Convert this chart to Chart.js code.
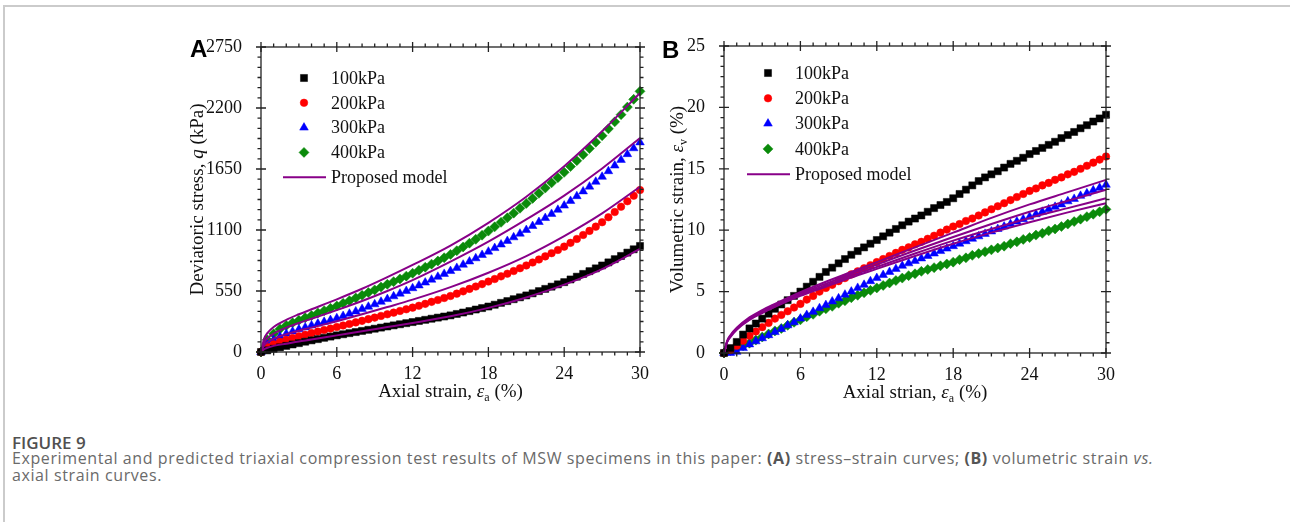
<!DOCTYPE html>
<html>
<head>
<meta charset="utf-8">
<script src="https://cdn.jsdelivr.net/npm/chart.js@4.4.1/dist/chart.umd.min.js"></script>
<style>
  body { margin: 0; background: #fff; width: 1290px; height: 522px; overflow: hidden; position: relative; }
  .frame { position: absolute; left: 3px; top: 5px; width: 1300px; height: 530px; border-top: 2px solid #cbcbcb; border-left: 2px solid #cbcbcb; }
  .panel { position: absolute; top: 30px; }
  #panelA { left: 170px; }
  #panelB { left: 640px; }
  .fig-no { position: absolute; left: 12px; top: 431px; font: 600 17px "Open Sans", sans-serif; color: #505050; }
  .fig-text { position: absolute; left: 12px; top: 450px; font: 16px/16.5px "Open Sans", sans-serif; letter-spacing: 0.6px; color: #6a6a6a; white-space: nowrap; }
  .fig-text b { color: #555; }
</style>
</head>
<body>
<div class="frame"></div>
<canvas id="panelA" class="panel" width="500" height="380"></canvas>
<canvas id="panelB" class="panel" width="500" height="380"></canvas>
<div class="fig-no">FIGURE 9</div>
<div class="fig-text">Experimental and predicted triaxial compression test results of MSW specimens in this paper: <b>(A)</b> stress&#8211;strain curves; <b>(B)</b> volumetric strain <i>vs.</i><br>axial strain curves.</div>
<script>
// axial strain of the measured points (%)
const strain = [0,0.5,1,1.5,2,2.5,3,3.5,4,4.5,5,5.5,6,6.5,7,7.5,8,8.5,9,9.5,10,10.5,11,11.5,12,12.5,13,13.5,14,14.5,15,15.5,16,16.5,17,17.5,18,18.5,19,19.5,20,20.5,21,21.5,22,22.5,23,23.5,24,24.5,25,25.5,26,26.5,27,27.5,28,28.5,29,29.5,30];

// deviatoric stress q (kPa), measured
const stressA100 = [0,15,29,42,55,68,80,93,105,116,128,139,150,160,170,180,190,200,210,220,230,240,250,260,270,280,290,300,310,320,330,343,356,369,383,396,410,426,443,459,476,493,510,529,549,569,589,610,630,654,679,704,729,754,780,808,837,866,896,926,956];
const stressA200 = [0,45,70,92,110,126,141,156,170,184,198,211,225,239,253,267,281,296,310,325,340,355,370,385,400,417,434,452,469,487,505,526,547,569,590,612,635,658,682,706,730,755,780,807,834,862,891,920,950,984,1019,1055,1092,1130,1170,1215,1262,1310,1359,1409,1460];
const stressA300 = [0,70,110,140,165,185,204,222,240,256,272,288,305,325,345,366,387,408,430,453,477,502,526,550,575,600,626,652,678,704,730,758,787,816,845,875,905,937,969,1001,1034,1067,1100,1136,1172,1208,1245,1282,1320,1362,1405,1448,1491,1535,1580,1630,1681,1732,1784,1837,1890];
const stressA400 = [0,110,165,208,240,264,286,308,330,352,373,394,415,439,463,487,511,536,560,585,610,634,659,684,710,737,764,792,820,850,880,913,947,981,1016,1053,1090,1129,1169,1210,1252,1296,1340,1385,1431,1478,1525,1572,1620,1672,1725,1779,1834,1891,1950,2012,2075,2140,2208,2278,2350];

// volumetric strain (%), measured
const volB100 = [0,0.4,0.9,1.5,2.0,2.4,2.8,3.2,3.6,3.95,4.3,4.65,5.0,5.4,5.8,6.2,6.6,6.95,7.3,7.65,8.0,8.3,8.6,8.9,9.2,9.5,9.8,10.1,10.4,10.7,10.95,11.2,11.5,11.8,12.05,12.3,12.6,12.95,13.3,13.65,14.0,14.3,14.55,14.8,15.1,15.4,15.65,15.9,16.2,16.45,16.7,16.95,17.2,17.5,17.75,18.0,18.3,18.55,18.85,19.1,19.4];
const volB200 = [0,0.25,0.6,1.0,1.4,1.75,2.1,2.45,2.8,3.1,3.4,3.7,4.0,4.35,4.65,5.0,5.3,5.55,5.85,6.1,6.4,6.65,6.9,7.15,7.4,7.65,7.9,8.15,8.4,8.6,8.85,9.05,9.3,9.55,9.8,10.05,10.3,10.5,10.75,10.95,11.2,11.45,11.7,11.95,12.2,12.45,12.7,12.95,13.2,13.4,13.65,13.85,14.1,14.3,14.55,14.75,15.0,15.25,15.5,15.75,16.0];
const volB300 = [0,0.0,0.1,0.4,0.7,0.95,1.2,1.45,1.7,1.95,2.25,2.5,2.8,3.1,3.35,3.65,3.9,4.2,4.45,4.75,5.0,5.3,5.55,5.85,6.1,6.35,6.6,6.85,7.1,7.3,7.5,7.7,7.9,8.1,8.3,8.5,8.7,8.9,9.1,9.3,9.5,9.7,9.9,10.1,10.3,10.5,10.7,10.9,11.1,11.3,11.5,11.7,11.9,12.1,12.35,12.55,12.8,13.0,13.25,13.45,13.7];
const volB400 = [0,0.2,0.4,0.6,0.8,1.05,1.3,1.55,1.8,2.0,2.25,2.5,2.7,2.95,3.15,3.4,3.6,3.8,4.05,4.25,4.5,4.7,4.9,5.1,5.3,5.5,5.7,5.9,6.1,6.3,6.45,6.65,6.8,6.95,7.1,7.25,7.4,7.6,7.75,7.95,8.1,8.25,8.4,8.55,8.7,8.9,9.05,9.25,9.4,9.6,9.75,9.95,10.1,10.3,10.5,10.7,10.9,11.1,11.3,11.5,11.7];

// proposed model curves
const modelStrain = [0,0.25,0.5,1,2,3,4,6,8,10,12,15,18,21,24,27,30];
const modelA100 = [0,25,38,55,75,95,112,150,188,225,262,322,398,492,607,748,930];
const modelA200 = [0,60,88,120,160,192,220,278,340,405,472,585,715,865,1045,1250,1490];
const modelA300 = [0,85,122,165,220,262,300,378,460,550,648,815,995,1195,1410,1655,1930];
const modelA400 = [0,120,170,225,290,340,385,475,570,675,785,960,1165,1400,1675,1990,2335];
const modelB100 = [0,1.0,1.45,2.05,2.9,3.5,4.0,4.95,5.8,6.6,7.4,8.6,9.8,11.0,12.1,13.1,14.1];
const modelB200 = [0,0.95,1.4,2.0,2.8,3.4,3.9,4.85,5.65,6.45,7.2,8.35,9.45,10.5,11.5,12.4,13.3];
const modelB300 = [0,0.9,1.35,1.95,2.75,3.3,3.8,4.75,5.5,6.3,7.0,8.1,9.15,10.1,11.0,11.8,12.6];
const modelB400 = [0,0.9,1.3,1.9,2.7,3.25,3.75,4.65,5.4,6.15,6.85,7.9,8.9,9.8,10.65,11.45,12.2];

// tick labels
const strainTicks = [0, 6, 12, 18, 24, 30];
const stressTicks = [0, 550, 1100, 1650, 2200, 2750];
const volTicks = [0, 5, 10, 15, 20, 25];

const pressures = ["100kPa", "200kPa", "300kPa", "400kPa"];
const markerStyles = [
    { style: "rect", color: "#000000", radius: 5 },
    { style: "circle", color: "#ff0000", radius: 3.8 },
    { style: "triangle", color: "#0000ff", radius: 5 },
    { style: "rectRot", color: "#0a8a0a", radius: 5 },
];
const modelColor = "#880088";
const serif = '"Liberation Serif", "Times New Roman", serif';

const pairs = (xs, ys) => xs.map((x, i) => ({ x: x, y: ys[i] }));

function markerSet(label, ys, m) {
    return {
        label: label,
        data: pairs(strain, ys),
        showLine: false,
        pointStyle: m.style,
        pointRadius: m.radius,
        backgroundColor: m.color,
        borderColor: m.color,
        borderWidth: 0.5,
        clip: false,
        order: 1,
    };
}

function modelSet(ys) {
    return {
        label: "Proposed model",
        data: pairs(modelStrain, ys),
        showLine: true,
        pointRadius: 0,
        borderColor: modelColor,
        borderWidth: 2,
        cubicInterpolationMode: "monotone",
        clip: false,
        order: 0,
    };
}

// draws text made of runs with their own font and baseline shift
function richText(ctx, runs, x, y) {
    let w = 0;
    runs.forEach(r => { ctx.font = r.font; w += ctx.measureText(r.t).width; });
    let cx = x - w / 2;
    runs.forEach(r => {
        ctx.font = r.font;
        ctx.fillText(r.t, cx, y + (r.dy || 0));
        cx += ctx.measureText(r.t).width;
    });
}

// frame, tick marks, legend, axis titles and panel letter
const decor = {
    id: "decor",
    afterDraw(chart) {
        const o = chart.options.plugins.decor;
        const { ctx, chartArea: a } = chart;
        const xs = chart.scales.x, ys = chart.scales.y;
        ctx.save();
        ctx.strokeStyle = "#222";
        ctx.lineWidth = 1.3;
        ctx.strokeRect(a.left, a.top, a.right - a.left, a.bottom - a.top);

        ctx.beginPath();
        const xMinor = o.xMajor / 6, yMinor = o.yMajor / 6;
        for (let i = 0; i * xMinor <= xs.max + 1e-9; i++) {
            const px = xs.getPixelForValue(i * xMinor);
            const major = i % 6 === 0;
            ctx.moveTo(px, a.bottom + (major ? 5 : 3.5)); ctx.lineTo(px, major ? a.bottom - 5 : a.bottom);
            ctx.moveTo(px, a.top - (major ? 5 : 3.5)); ctx.lineTo(px, major ? a.top + 5 : a.top);
        }
        for (let i = 0; i * yMinor <= ys.max + 1e-9; i++) {
            const py = ys.getPixelForValue(i * yMinor);
            const major = i % 6 === 0;
            ctx.moveTo(a.left - (major ? 5 : 3.5), py); ctx.lineTo(major ? a.left + 5 : a.left, py);
            ctx.moveTo(a.right + (major ? 5 : 3.5), py); ctx.lineTo(major ? a.right - 5 : a.right, py);
        }
        ctx.stroke();

        // legend
        const lg = o.legend;
        ctx.font = "18px " + serif;
        ctx.textBaseline = "middle";
        const entries = chart.data.datasets.filter(d => !d.showLine);
        entries.push(chart.data.datasets.find(d => d.showLine));
        entries.forEach((d, i) => {
            const y = a.top + lg.top + i * lg.row;
            const mx = a.left + lg.marker;
            if (d.showLine) {
                ctx.strokeStyle = d.borderColor;
                ctx.lineWidth = 2;
                ctx.beginPath();
                ctx.moveTo(mx - 21, y); ctx.lineTo(mx + 22, y);
                ctx.stroke();
            } else {
                ctx.fillStyle = d.backgroundColor;
                ctx.strokeStyle = d.borderColor;
                ctx.lineWidth = 0.5;
                Chart.helpers.drawPoint(ctx, { pointStyle: d.pointStyle, radius: d.pointRadius, rotation: 0, borderWidth: 0.5 }, mx, y);
            }
            ctx.fillStyle = "#111";
            ctx.textAlign = "left";
            ctx.fillText(d.label, a.left + lg.text, y + 1);
        });

        // axis titles
        ctx.fillStyle = "#111";
        ctx.textAlign = "left";
        ctx.textBaseline = "alphabetic";
        richText(ctx, o.xTitle, (a.left + a.right) / 2, a.bottom + o.xTitleDy);
        ctx.translate(a.left - o.yTitleDx, (a.top + a.bottom) / 2);
        ctx.rotate(-Math.PI / 2);
        richText(ctx, o.yTitle, 0, 6);
        ctx.restore();

        ctx.save();
        ctx.fillStyle = "#000";
        ctx.font = 'bold 24px "Liberation Sans", Arial, sans-serif';
        ctx.textBaseline = "alphabetic";
        ctx.fillText(o.letter, o.letterX, o.letterY);
        ctx.restore();
    },
};

const f = (style, size) => style + " " + size + "px " + serif;

function makePanel(id, cfg) {
    const datasets = [
        modelSet(cfg.model[0]), modelSet(cfg.model[1]), modelSet(cfg.model[2]), modelSet(cfg.model[3]),
    ];
    cfg.series.forEach((ys, i) => datasets.push(markerSet(pressures[i], ys, markerStyles[i])));
    const tickFont = { family: serif, size: 18 };
    return new Chart(document.getElementById(id), {
        type: "scatter",
        data: { datasets: datasets },
        plugins: [decor],
        options: {
            responsive: false,
            animation: false,
            events: [],
            layout: { padding: { left: 0, right: cfg.padRight, top: cfg.padTop, bottom: 0 } },
            scales: {
                x: {
                    type: "linear", min: 0, max: 30,
                    afterBuildTicks: s => { s.ticks = strainTicks.map(v => ({ value: v })); },
                    afterFit: s => { s.height = cfg.xAxisH; s.paddingLeft = 0; s.paddingRight = 0; },
                    grid: { display: false },
                    border: { display: false },
                    ticks: { font: tickFont, color: "#111", padding: 3, maxRotation: 0, callback: v => String(v) },
                },
                y: {
                    type: "linear", min: 0, max: cfg.yMax,
                    afterBuildTicks: s => { s.ticks = cfg.yTicks.map(v => ({ value: v })); },
                    afterFit: s => { s.width = cfg.yAxisW; s.paddingTop = 0; s.paddingBottom = 0; },
                    grid: { display: false },
                    border: { display: false },
                    ticks: { font: tickFont, color: "#111", padding: 11, callback: v => String(v) },
                },
            },
            plugins: {
                legend: { display: false },
                tooltip: { enabled: false },
                decor: cfg.decor,
            },
        },
    });
}

const epsRun = (sub) => [
    { t: "\u03b5", font: f("italic", 19) },
    { t: sub, font: f("", 12), dy: 4 },
];

makePanel("panelA", {
    series: [stressA100, stressA200, stressA300, stressA400],
    model: [modelA100, modelA200, modelA300, modelA400],
    yMax: 2750, yTicks: stressTicks,
    yAxisW: 91, xAxisH: 58, padRight: 30, padTop: 17,
    decor: {
        xMajor: 6, yMajor: 550,
        legend: { marker: 43, text: 70, top: 31, row: 24.8 },
        xTitle: [{ t: "Axial strain, ", font: f("", 19) }].concat(epsRun("a"), [{ t: " (%)", font: f("", 19) }]),
        xTitleDy: 45,
        yTitle: [{ t: "Deviatoric stress, ", font: f("", 19) }, { t: "q", font: f("italic", 19) }, { t: " (kPa)", font: f("", 19) }],
        yTitleDx: 64,
        letter: "A", letterX: 20, letterY: 27,
    },
});

makePanel("panelB", {
    series: [volB100, volB200, volB300, volB400],
    model: [modelB100, modelB200, modelB300, modelB400],
    yMax: 25, yTicks: volTicks,
    yAxisW: 84, xAxisH: 57, padRight: 34, padTop: 16,
    decor: {
        xMajor: 6, yMajor: 5,
        legend: { marker: 44, text: 71, top: 27, row: 25.3 },
        xTitle: [{ t: "Axial strian, ", font: f("", 19) }].concat(epsRun("a"), [{ t: " (%)", font: f("", 19) }]),
        xTitleDy: 45,
        yTitle: [{ t: "Volumetric strain, ", font: f("", 19) }].concat(epsRun("v"), [{ t: " (%)", font: f("", 19) }]),
        yTitleDx: 47,
        letter: "B", letterX: 22, letterY: 28,
    },
});
</script>
</body>
</html>
